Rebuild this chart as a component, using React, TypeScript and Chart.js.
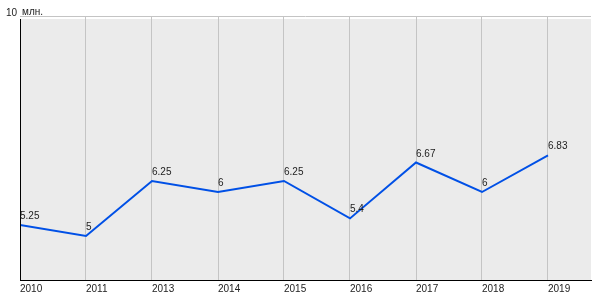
import React, { useEffect, useRef } from "react";
import { Chart, registerables } from "chart.js";

Chart.register(...registerables);

const years = ["2010", "2011", "2013", "2014", "2015", "2016", "2017", "2018", "2019"];
const values = [5.25, 5, 6.25, 6, 6.25, 5.4, 6.67, 6, 6.83];
const yMin = 4;
const yMax = 10;
const unitLabel = "млн.";

const FONT = "'Liberation Sans', Arial, sans-serif";

const decor = {
  id: "decor",
  beforeDraw(chart: any) {
    const { ctx, chartArea } = chart;
    ctx.save();
    ctx.fillStyle = "#ebebeb";
    ctx.fillRect(chartArea.left, chartArea.top + 3, chartArea.right - chartArea.left, chartArea.bottom - chartArea.top - 3);
    ctx.restore();
  },
  afterDatasetsDraw(chart: any) {
    const { ctx, chartArea } = chart;
    ctx.save();
    // left border
    ctx.strokeStyle = "#000";
    ctx.lineWidth = 1;
    ctx.beginPath();
    ctx.moveTo(chartArea.left + 0.5, chartArea.top + 3);
    ctx.lineTo(chartArea.left + 0.5, chartArea.bottom);
    ctx.stroke();
    // unit label
    ctx.fillStyle = "#222";
    ctx.font = "10px " + FONT;
    ctx.textAlign = "left";
    ctx.textBaseline = "alphabetic";
    ctx.fillText(unitLabel, chartArea.left + 2, chartArea.top - 1);
    // data labels
    const meta = chart.getDatasetMeta(0);
    meta.data.forEach((pt: any, i: number) => {
      ctx.fillText(String(values[i]), pt.x, pt.y - 6);
    });
    ctx.restore();
  },
};

export default function App() {
  const ref = useRef<HTMLCanvasElement>(null);
  useEffect(() => {
    document.body.style.margin = "0";
    const chart = new Chart(ref.current!, {
      type: "line",
      data: {
        datasets: [
          {
            data: values.map((v, i) => ({ x: i, y: v })),
            borderColor: "#0050e6",
            borderWidth: 2,
            pointRadius: 0,
            tension: 0,
            fill: false,
          },
        ],
      },
      options: {
        animation: false,
        responsive: false,
        events: [],
        layout: { padding: { top: 16, right: 9, left: 0, bottom: 0 } },
        plugins: { legend: { display: false }, tooltip: { enabled: false } },
        scales: {
          x: {
            type: "linear",
            min: 0,
            max: years.length - 1 + 43 / 66,
            afterBuildTicks: (s: any) => {
              s.ticks = years.map((_, i) => ({ value: i }));
            },
            afterFit: (s: any) => {
              s.height = 20;
            },
            ticks: {
              callback: (v: any) => years[v] ?? "",
              align: "start",
              padding: 3,
              color: "#222",
              font: { family: FONT, size: 10 },
              maxRotation: 0,
              autoSkip: false,
            },
            grid: {
              color: (c: any) => (c.tick && c.tick.value === 0 ? "rgba(0,0,0,0)" : "#c4c4c4"),
              drawTicks: false,
            },
            border: { display: true, color: "#000", width: 1 },
          },
          y: {
            type: "linear",
            min: yMin,
            max: yMax,
            afterBuildTicks: (s: any) => {
              s.ticks = [{ value: yMax }];
            },
            afterFit: (s: any) => {
              s.width = 20;
            },
            ticks: {
              padding: 3,
              labelOffset: -3,
              color: "#222",
              font: { family: FONT, size: 10 },
            },
            grid: { color: "#c4c4c4", drawTicks: false },
            border: { display: false },
          },
        },
      },
      plugins: [decor],
    });
    return () => chart.destroy();
  }, []);
  return <canvas ref={ref} width={600} height={300} style={{ display: "block" }} />;
}
